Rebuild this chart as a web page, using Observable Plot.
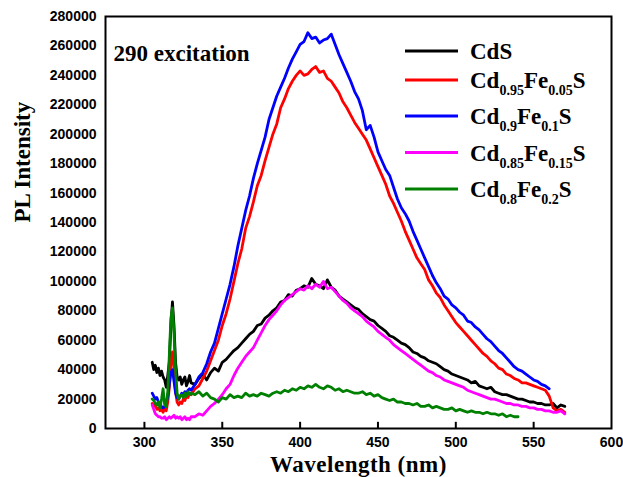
<!DOCTYPE html>
<html><head><meta charset="utf-8">
<script src="https://cdn.jsdelivr.net/npm/d3@7"></script>
<script src="https://cdn.jsdelivr.net/npm/@observablehq/plot@0.6"></script>
<style>
html,body{margin:0;padding:0;background:#fff;}
#chart{width:623px;height:477px;}
</style></head><body><div id="chart"></div>
<script>
// wavelength grid (nm)
const wavelength = [
  305,306,307,308,309,310,311,312,313,314,315,316,317,318,319,320,321,322,323,324,325,326,327,328,329,330,
  332.5,335,337.5,340, 342.5,345,347.5,350, 352.5,355,357.5,360, 362.5,365,367.5,370,
  372.5,375,377.5,380, 382.5,385,387.5,390, 392.5,395,397.5,400, 402.5,405,407.5,410,
  412.5,415,417.5,420, 422.5,425,427.5,430, 432.5,435,437.5,440, 442.5,445,447.5,450,
  452.5,455,457.5,460, 462.5,465,467.5,470, 472.5,475,477.5,480, 482.5,485,487.5,490,
  492.5,495,497.5,500, 502.5,505,507.5,510, 512.5,515,517.5,520, 522.5,525,527.5,530,
  532.5,535,537.5,540, 542.5,545,547.5,550, 552.5,555,557.5,560, 562.5,565,567.5,570
];
// intensities in thousands of counts
const cdS = [
  45,40,43,38,41,36,39,35,33,28,36,45,70,86,70,45,35,33,35,30,33,35,29,32,36,31,
  30,34,37,33, 38,41,39,45, 47,50,53,55, 58,61,64,66,
  70,71,75,77, 80,82,86,87, 91,90,94,95, 97,96,102,98,
  97,95,101,96, 94,90,88,86, 84,82,81,78, 76,74,73,70,
  68,66,63,62, 60,58,57,55, 52,51,49,48, 46,45,44,42,
  40,39,37,36, 35,34,33,31, 32,29,28,27, 28,25,24,23,
  23,22,21,20, 20,19,18,18, 17,17,16,16, 17,14,16,15
];
const cd095 = [
  17,15,16,13,14,12,13,11,14,12,18,28,45,52,40,25,18,16,18,17,20,19,22,21,24,23,
  27,29,34,39, 46,53,60,70, 78,88,100,112, 122,136,144,154,
  165,172,182,191, 200,207,218,224, 231,236,240,243, 240,241,244,246,
  242,243,238,236, 232,228,222,218, 213,208,204,200, 196,190,184,178,
  172,166,158,153, 147,141,134,128, 122,116,112,108, 101,97,92,89,
  84,80,76,72, 69,66,63,60, 57,54,51,49, 46,44,41,40,
  37,36,34,33, 31,31,30,29, 28,27,26,22, 14,12,13,11
];
const cd09 = [
  24,22,20,21,18,17,15,14,15,17,22,30,38,40,32,24,21,20,22,24,23,25,24,26,27,26,
  30,35,38,44, 52,58,68,78, 88,98,110,124, 136,148,158,170,
  180,189,198,210, 218,226,232,238, 245,251,256,261, 263,269,265,266,
  262,264,265,268, 261,254,248,242, 236,229,224,216, 203,206,198,188,
  182,176,172,164, 156,150,146,141, 134,128,122,116, 110,104,99,95,
  90,88,84,82, 79,77,73,72, 69,67,64,61, 59,56,53,51,
  48,45,42,40, 39,37,35,33, 32,30,29,27, null,null,null,null
];
const cd085 = [
  16,13,10,9,8,8,7,7,8,6,7,8,7,8,9,7,8,7,8,6,7,8,6,7,6,8,
  8,10,9,12, 15,17,20,23, 27,30,36,41, 45,49,52,55,
  60,65,70,74, 77,80,84,87, 89,91,93,95, 94,97,95,98,
  96,100,95,96, 93,90,87,85, 82,80,78,76, 73,71,69,66,
  64,62,60,57, 55,53,51,49, 47,45,43,41, 39,38,36,35,
  33,32,31,30, 29,28,26,25, 24,23,22,21, 20,20,19,18,
  17,17,16,16, 15,15,14,14, 13,13,12,12, 11,11,12,10
];
const cd08 = [
  20,19,17,16,18,14,20,27,16,15,25,50,75,82,65,40,24,20,22,23,21,24,22,25,23,24,
  23,25,22,24, 21,20,18,21, 20,23,21,22, 21,24,22,23,
  22,24,23,22, 24,25,24,26, 25,27,26,28, 27,29,28,30,
  28,27,29,28, 26,27,25,26, 25,24,24,25, 23,24,22,23,
  21,20,19,20, 18,18,17,17, 16,17,15,15, 16,14,15,14,
  13,13,14,12, 13,12,11,12, 11,11,10,11, 10,10,9,10,
  8,9,8,8, null,null,null,null, null,null,null,null, null,null,null,null
];
const seriesNames = ["CdS","Cd0.95Fe0.05S","Cd0.9Fe0.1S","Cd0.85Fe0.15S","Cd0.8Fe0.2S"];
const seriesColors = ["#000000","#ff0000","#0000ff","#ff00ff","#008000"];
const legendLabels = [
  [["CdS",0]],
  [["Cd",0],["0.95",1],["Fe",0],["0.05",1],["S",0]],
  [["Cd",0],["0.9",1],["Fe",0],["0.1",1],["S",0]],
  [["Cd",0],["0.85",1],["Fe",0],["0.15",1],["S",0]],
  [["Cd",0],["0.8",1],["Fe",0],["0.2",1],["S",0]]
];
const xTicks = [300,350,400,450,500,550,600];
const yTicks = [0,20000,40000,60000,80000,100000,120000,140000,160000,180000,200000,220000,240000,260000,280000];

const allSeries = [cdS, cd095, cd09, cd085, cd08];
const table = [];
allSeries.forEach((vals, i) => vals.forEach((v, j) => {
  if (v != null) table.push({wl: wavelength[j], value: v * 1000, series: seriesNames[i]});
}));

const serif = "'Liberation Serif', 'Times New Roman', serif";
const plot = Plot.plot({
  width: 623, height: 477,
  marginLeft: 105, marginRight: 12, marginTop: 16, marginBottom: 49,
  style: {fontFamily: "'Liberation Sans', Arial, sans-serif", fontSize: "14px", fontWeight: "bold", color: "#000", background: "#fff"},
  x: {domain: [275, 600]},
  y: {domain: [0, 280000]},
  color: {domain: seriesNames, range: seriesColors},
  marks: [
    Plot.line(table, {x: "wl", y: "value", z: "series", stroke: "series", strokeWidth: 2.8, strokeLinejoin: "round"}),
    Plot.ruleX(xTicks.filter(d => d < 600), {x: d => d, y1: 0, y2: 4200, stroke: "#000", strokeWidth: 2}),
    Plot.axisX({ticks: xTicks, tickSize: 0, tickPadding: 9, tickFormat: d => String(d), label: null}),
    Plot.axisY({ticks: yTicks, tickSize: 0, tickPadding: 9, tickFormat: d => String(d), label: null}),
    Plot.frame({stroke: "#000", strokeWidth: 2}),
    Plot.text(["290 excitation"], {text: d => d, frameAnchor: "top-left", dx: 8, dy: 37, textAnchor: "start", lineAnchor: "middle", fontFamily: serif, fontSize: 23, fontWeight: "bold"}),
    Plot.text(["Wavelength (nm)"], {text: d => d, frameAnchor: "bottom", dy: 36, lineAnchor: "middle", fontFamily: serif, fontSize: 23, fontWeight: "bold"}),
    Plot.text(["PL Intensity"], {text: d => d, frameAnchor: "left", dx: -83, rotate: -90, lineAnchor: "middle", fontFamily: serif, fontSize: 23, fontWeight: "bold"})
  ]
});
document.getElementById("chart").appendChild(plot);

// legend inside the plot area
const svg = d3.select(plot);
const legendY = [51, 80, 116, 152.5, 189];
const lg = svg.append("g").attr("class", "legend");
legendLabels.forEach((parts, i) => {
  lg.append("line").attr("x1", 405).attr("x2", 458).attr("y1", legendY[i]).attr("y2", legendY[i])
    .attr("stroke", seriesColors[i]).attr("stroke-width", 3);
  const t = lg.append("text").attr("x", 470).attr("y", legendY[i] + 8)
    .attr("text-anchor", "start").attr("font-family", serif).attr("font-weight", "bold").style("font-size", "23px");
  let sub = false;
  parts.forEach(([s, isSub]) => {
    const ts = t.append("tspan").text(s);
    if (isSub && !sub) { ts.attr("dy", 7).style("font-size", "14px"); sub = true; }
    else if (isSub) { ts.style("font-size", "14px"); }
    else if (!isSub && sub) { ts.attr("dy", -7); sub = false; }
  });
});
svg.selectAll("text").filter(function() { return this.textContent === "Wavelength (nm)"; }).style("letter-spacing", "0.5px");
</script></body></html>
